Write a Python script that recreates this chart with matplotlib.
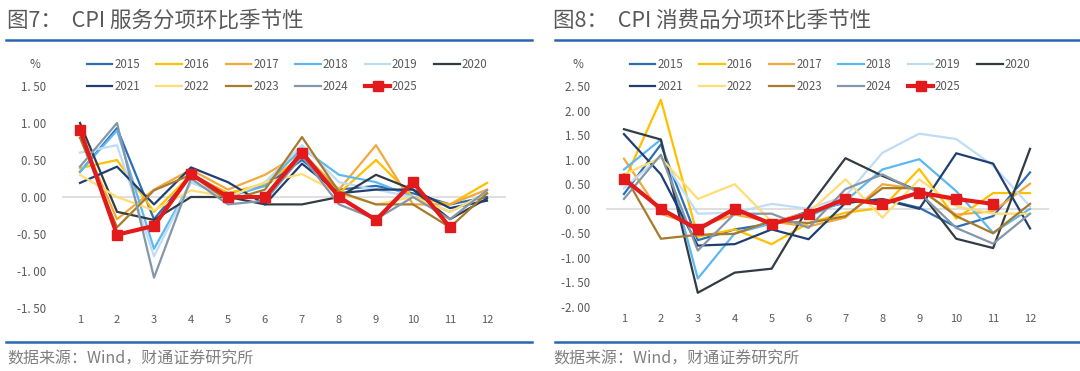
import matplotlib
matplotlib.use("Agg")
import matplotlib.pyplot as plt
from matplotlib.lines import Line2D

plt.rcParams['font.family'] = ['Noto Sans CJK SC', 'DejaVu Sans']

months = list(range(1, 13))
years = ['2015', '2016', '2017', '2018', '2019', '2020',
         '2021', '2022', '2023', '2024', '2025']
colors = ['#2E6DB4', '#FFC000', '#F2A93B', '#5CB8F2', '#BFDCF7', '#333C44',
          '#1F3F73', '#FFDD75', '#A77A2C', '#8497AA', '#E31A1C']

# Fig 7: CPI services MoM (%)
services = {
    '2015': [0.34, 0.93, -0.30, 0.30, 0.05, 0.15, 0.50, 0.10, 0.15, 0.05, -0.10, 0.00],
    '2016': [0.39, 0.50, -0.20, 0.30, 0.05, 0.18, 0.55, 0.05, 0.50, 0.00, -0.10, 0.19],
    '2017': [0.85, -0.30, 0.10, 0.37, 0.10, 0.30, 0.60, 0.10, 0.70, -0.10, -0.10, 0.10],
    '2018': [0.34, 0.90, -0.70, 0.20, 0.00, 0.15, 0.66, 0.30, 0.20, 0.00, -0.20, 0.05],
    '2019': [0.60, 0.70, -0.80, 0.20, 0.00, 0.20, 0.70, 0.20, 0.10, 0.00, -0.20, 0.05],
    '2020': [1.00, -0.20, -0.31, 0.00, 0.00, -0.10, -0.10, 0.00, 0.30, 0.10, -0.30, -0.02],
    '2021': [0.19, 0.41, -0.10, 0.40, 0.20, -0.10, 0.45, 0.05, 0.10, 0.10, -0.15, -0.05],
    '2022': [0.30, 0.00, -0.18, 0.09, 0.00, 0.20, 0.31, 0.05, -0.10, 0.00, -0.20, 0.05],
    '2023': [0.80, -0.41, 0.09, 0.30, -0.05, 0.10, 0.81, 0.07, -0.10, -0.10, -0.41, 0.05],
    '2024': [0.41, 1.00, -1.09, 0.25, -0.10, -0.05, 0.55, -0.10, -0.30, 0.00, -0.30, 0.09],
    '2025': [0.91, -0.51, -0.39, 0.31, 0.00, 0.00, 0.60, 0.00, -0.31, 0.20, -0.41],
}

# Fig 8: CPI consumer goods MoM (%)
goods = {
    '2015': [0.30, 1.31, -0.64, -0.42, -0.30, -0.05, 0.12, 0.20, 0.02, -0.37, -0.15, 0.74],
    '2016': [0.55, 2.22, -0.57, -0.42, -0.72, -0.29, -0.08, 0.02, 0.81, -0.20, 0.32, 0.32],
    '2017': [1.02, -0.10, -0.36, -0.12, -0.26, -0.36, -0.18, 0.50, 0.40, -0.12, -0.05, 0.51],
    '2018': [0.80, 1.41, -1.42, -0.50, -0.30, -0.15, 0.16, 0.80, 1.01, 0.36, -0.49, 0.00],
    '2019': [0.42, 1.07, -0.10, -0.08, 0.10, 0.00, 0.26, 1.14, 1.53, 1.42, 0.88, 0.05],
    '2020': [1.62, 1.41, -1.71, -1.30, -1.22, 0.03, 1.03, 0.67, 0.36, -0.61, -0.80, 1.22],
    '2021': [1.52, 0.70, -0.75, -0.72, -0.42, -0.62, 0.12, 0.19, 0.00, 1.13, 0.92, -0.40],
    '2022': [0.70, 1.04, 0.20, 0.50, -0.26, -0.08, 0.60, -0.18, 0.60, 0.05, -0.10, -0.10],
    '2023': [0.70, -0.61, -0.53, -0.51, -0.24, -0.29, -0.15, 0.42, 0.42, -0.15, -0.50, 0.10],
    '2024': [0.20, 1.10, -0.85, -0.10, -0.10, -0.39, 0.40, 0.70, 0.33, -0.39, -0.71, -0.10],
    '2025': [0.61, 0.00, -0.42, 0.00, -0.31, -0.10, 0.20, 0.10, 0.33, 0.20, 0.10],
}

W, H = 1080, 371
fig = plt.figure(figsize=(W / 100, H / 100), dpi=100)

TXT = '#595959'


def fx(px):
    return px / W


def fy(py):
    return 1 - py / H


def fmt(v):
    s = f'{v:.2f}'
    return s.replace('.', '. ')


def panel(left_px, right_px, top_px, bot_px, ymin, ymax, data, title,
          title_x, title_line, pct_x, leg_x):
    ax = fig.add_axes([fx(left_px), fy(bot_px), fx(right_px - left_px),
                       (bot_px - top_px) / H])
    ax.axhline(0, color='#D9D9D9', lw=1.2, zorder=1)
    handles = {}
    for y, c in zip(years, colors):
        vals = data[y]
        x = months[:len(vals)]
        if y == '2025':
            h, = ax.plot(x, vals, color=c, lw=3.0, marker='s', ms=6.5,
                         zorder=5)
        else:
            h, = ax.plot(x, vals, color=c, lw=1.6, zorder=3)
        handles[y] = h
    ax.set_xlim(0.5, 12.5)
    ax.set_ylim(ymin, ymax)
    ax.set_xticks(months)
    ax.set_xticklabels([str(m) for m in months], fontsize=8, color=TXT)
    ticks = []
    v = ymin
    while v <= ymax + 1e-9:
        ticks.append(round(v, 2))
        v += 0.5
    ax.set_yticks(ticks)
    ax.set_yticklabels([fmt(t) for t in ticks], fontsize=8.3, color=TXT)
    ax.tick_params(length=0)
    ax.tick_params(axis='y', pad=11)
    ax.tick_params(axis='x', pad=5)
    for s in ax.spines.values():
        s.set_visible(False)
    ax.patch.set_alpha(0)

    order = ['2015', '2021', '2016', '2022', '2017', '2023', '2018', '2024',
             '2019', '2025', '2020']
    hs = []
    for y in order:
        h = handles[y]
        hs.append(Line2D([], [], color=h.get_color(), lw=h.get_linewidth(),
                         marker=h.get_marker() if y == '2025' else None,
                         ms=6.5))
    fig.legend(hs, order, ncol=6, loc='upper left',
               bbox_to_anchor=(fx(leg_x), fy(58)), frameon=False,
               fontsize=8.3, handlelength=2.2, handletextpad=0.15,
               columnspacing=1.45, labelspacing=0.78, borderpad=0,
               borderaxespad=0, labelcolor=TXT)

    fig.text(fx(pct_x), fy(65), '%', fontsize=8.5, color=TXT,
             ha='center', va='center')
    fig.text(fx(title_x), fy(21), title, fontsize=15.5, color='#595959',
             ha='left', va='center')
    fig.add_artist(Line2D([fx(title_line[0]), fx(title_line[1])],
                          [fy(40), fy(40)], color='#2A66B0', lw=1.8))
    fig.add_artist(Line2D([fx(title_line[0]), fx(title_line[1])],
                          [fy(342), fy(342)], color='#2A66B0', lw=1.8))
    fig.text(fx(title_x), fy(359), '数据来源：Wind，财通证券研究所',
             fontsize=11.5, color='#7F7F7F', ha='left', va='center')
    return ax


panel(61.5, 505.5, 86, 308, -1.5, 1.5, services,
      '图7：  CPI 服务分项环比季节性', 7, (6, 532), 35, 87)
panel(605.5, 1048.5, 86, 307, -2.0, 2.5, goods,
      '图8：  CPI 消费品分项环比季节性', 553, (555, 1080), 578, 630)

fig.savefig('out.png', dpi=100)
